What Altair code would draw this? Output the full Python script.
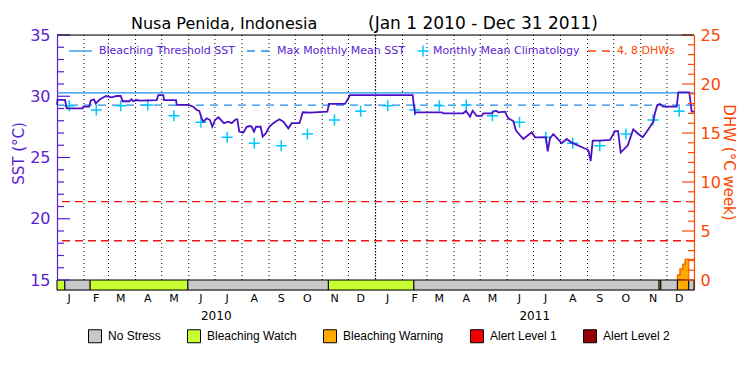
import altair as alt
import pandas as pd

# ---------------- data ----------------
TITLE_LEFT = "Nusa Penida, Indonesia"
TITLE_RIGHT = "(Jan 1 2010 - Dec 31 2011)"

# daily SST read at turning points (day offset from 2010-01-01)
SST_DAY = [0.0, 0.6, 9.2, 11.1, 29.5, 30.1, 37.0, 38.6, 42.4, 44.4, 49.3, 56.2, 62.7, 68.4,
           73.0, 75.3, 82.9, 85.6, 87.4, 91.3, 95.1, 114.3, 116.1, 121.8, 122.6, 136.4,
           137.2, 150.5, 156.2, 160.1, 163.1, 165.8, 167.7, 171.6, 175.3, 178.0, 181.1,
           184.9, 191.4, 196.3, 200.2, 204.8, 206.6, 208.9, 213.5, 217.4, 221.2, 223.1,
           225.8, 228.1, 233.4, 235.7, 239.5, 243.3, 247.9, 254.8, 259.4, 265.1, 269.0,
           277.7, 279.3, 281.6, 289.9, 309.8, 311.7, 330.0, 332.7, 335.8, 407.6, 408.3,
           410.3, 412.2, 440.9, 442.7, 465.6, 468.7, 473.3, 476.4, 481.0, 486.7, 488.6,
           498.2, 500.0, 503.1, 505.7, 513.4, 517.2, 522.9, 526.0, 534.4, 544.0, 547.8,
           560.4, 562.3, 565.0, 568.8, 578.4, 584.1, 589.8, 608.9, 611.6, 613.9, 622.3,
           633.7, 639.5, 643.0, 646.0, 654.1, 660.4, 666.2, 671.2, 675.8, 683.4, 685.3,
           688.0, 691.0, 694.8, 710.2, 712.0, 724.6, 726.2, 727.3, 730.0]
SST_VAL = [29.29, 29.70, 29.70, 29.01, 29.01, 29.15, 29.15, 29.64, 29.75, 29.42, 29.75, 30.02,
           29.91, 30.02, 30.02, 29.59, 29.59, 29.75, 29.59, 29.69, 29.64, 29.69, 30.10, 30.10,
           29.69, 29.69, 29.29, 29.29, 29.15, 28.88, 28.80, 28.20, 27.92, 28.20, 28.06, 27.51,
           28.06, 28.28, 27.80, 27.92, 27.80, 28.12, 28.12, 27.11, 27.02, 27.51, 27.57, 27.51,
           27.11, 27.51, 27.51, 26.70, 26.98, 27.51, 27.80, 28.12, 27.92, 27.38, 27.80, 27.80,
           28.12, 28.69, 28.66, 28.74, 29.37, 29.37, 29.69, 30.10, 30.10, 29.64, 28.61, 28.69,
           28.69, 28.61, 28.61, 28.80, 28.33, 28.82, 28.39, 28.39, 28.61, 28.61, 28.74, 28.82,
           28.69, 28.74, 28.20, 27.98, 27.19, 26.51, 27.06, 26.65, 26.65, 25.50, 26.57, 26.90,
           26.16, 26.51, 26.21, 25.61, 24.70, 26.38, 26.38, 26.43, 27.16, 27.16, 25.40, 26.00,
           27.30, 26.92, 26.65, 27.11, 27.92, 28.66, 29.29, 29.37, 29.15, 29.15, 30.32, 30.32,
           29.42, 28.74, 28.74]

# monthly mean climatology (Jan..Dec)
CLIM = [29.23, 28.88, 29.23, 29.29, 28.41, 27.87, 26.65, 26.16, 25.96, 26.92, 28.06, 28.77]
MMM = 29.27
THRESHOLD = 30.27
DHW_LINES = [4, 8]

# degree heating weeks at the end of 2011
DHW_DAY = [711, 714, 717, 720, 724, 730]
DHW_VAL = [0.5, 1.1, 1.6, 2.1, 2.1, 2.1]
WARN_END = 724

# stress status bar
STATUS_START = [0, 9, 38, 150, 311, 409, 690, 692, 711, 724]
STATUS_END = [9, 38, 150, 311, 409, 690, 692, 711, 724, 730]
STATUS = ["Bleaching Watch", "No Stress", "Bleaching Watch", "No Stress", "Bleaching Watch",
          "No Stress", "Bleaching Watch", "No Stress", "Bleaching Warning", "No Stress"]
STATUS_CATS = ["No Stress", "Bleaching Watch", "Bleaching Warning", "Alert Level 1", "Alert Level 2"]
STATUS_COLORS = ["#c8c8c8", "#c8ff32", "#ffaa00", "#f00000", "#960000"]

MONTH_LETTERS = list("JFMAMJJASOND")
YEARS = ["2010", "2011"]

SST_TICKS_MAJOR = [15, 20, 25, 30, 35]
DHW_TICKS_MAJOR = [0, 5, 10, 15, 20, 25]

# ---------------- styling ----------------
W, H = 637, 255
PURPLE = "#5a1ed2"
LINE_PURPLE = "#4b10c8"
BLUE = "#1e90f0"
CYAN = "#00c8ff"
ORANGE = "#ff4600"
RED = "#f01414"
FONT = "DejaVu Sans"
LEG_FONT = "Liberation Sans"
SST_DOMAIN = [35 - H / 12.25, 35]
DHW_DOMAIN = [-(H - 245) / 9.8, 25]
BAR_TOP, BAR_BOT = 245, 255

xs = alt.Scale(domain=[0, 730], nice=False, zero=False)
sst_scale = alt.Scale(domain=SST_DOMAIN, nice=False, zero=False)
dhw_scale = alt.Scale(domain=DHW_DOMAIN, nice=False, zero=False)

# ---------------- tables ----------------
base_date = pd.Timestamp("2010-01-01")
month_starts = pd.date_range("2010-01-01", "2011-12-01", freq="MS")
month_day = [(d - base_date).days for d in month_starts]
months = pd.DataFrame({
    "day": month_day,
    "mid": [d + 14 for d in month_day],
    "letter": MONTH_LETTERS * 2,
    "clim": CLIM * 2,
})
sst_df = pd.DataFrame({"day": SST_DAY, "sst": SST_VAL})
dhw_df = pd.DataFrame({"day": DHW_DAY, "dhw": DHW_VAL})
status_df = pd.DataFrame({"s": STATUS_START, "e": STATUS_END, "status": STATUS})
year_df = pd.DataFrame({"year": YEARS, "mid": [182.5, 547.5]})

# ---------------- layers ----------------
grid = alt.Chart(months[(months["day"] > 0) & (months["day"] != 365)]).mark_rule(
    color="black", strokeDash=[1, 3], strokeWidth=1
).encode(x=alt.X("day:Q", scale=xs, axis=None), y=alt.value(0), y2=alt.value(BAR_TOP))
grid_year = alt.Chart(months[months["day"] == 365]).mark_rule(
    color="black", strokeDash=[1.5, 1.5], strokeWidth=1.2
).encode(x=alt.X("day:Q", scale=xs, axis=None), y=alt.value(0), y2=alt.value(BAR_TOP))

dhw_ref = alt.Chart(pd.DataFrame({"v": DHW_LINES})).mark_rule(
    color=RED, strokeDash=[8, 5], strokeWidth=1.4
).encode(y=alt.Y("v:Q", scale=dhw_scale, axis=None))

thr = alt.Chart(pd.DataFrame({"v": [THRESHOLD]})).mark_rule(color=BLUE, strokeWidth=1.3).encode(
    y=alt.Y("v:Q", scale=sst_scale, axis=None))
mmm = alt.Chart(pd.DataFrame({"v": [MMM]})).mark_rule(
    color=BLUE, strokeWidth=1.3, strokeDash=[8, 6]).encode(
    y=alt.Y("v:Q", scale=sst_scale, axis=None))

clim = alt.Chart(months).mark_point(
    shape="M-1,0L1,0M0,-1L0,1", filled=False, size=121, color=CYAN, strokeWidth=1.5, opacity=1
).encode(x=alt.X("mid:Q", scale=xs, axis=None), y=alt.Y("clim:Q", scale=sst_scale, axis=None))

sst_line = alt.Chart(sst_df).mark_line(color=LINE_PURPLE, strokeWidth=1.8).encode(
    x=alt.X("day:Q", scale=xs, axis=None),
    y=alt.Y("sst:Q", scale=sst_scale, axis=alt.Axis(
        orient="left", values=SST_TICKS_MAJOR, ticks=False, grid=False,
        domainColor=PURPLE, domainWidth=1.2,
        labelColor=PURPLE, labelFont=FONT, labelFontSize=16, labelPadding=7,
        title="SST (°C)", titleColor=PURPLE, titleFont=FONT, titleFontSize=15,
        titleFontWeight="normal", titleAngle=-90, titleX=-39, titleY=118,
        titleAlign="center", titleBaseline="middle")),
)

dhw_area = alt.Chart(dhw_df[dhw_df["day"] <= WARN_END]).mark_area(
    color="#ffaa00", stroke="#ff6a00", strokeWidth=1.3, interpolate="step-after", opacity=1
).encode(x=alt.X("day:Q", scale=xs, axis=None),
         y=alt.Y("dhw:Q", scale=dhw_scale, axis=None), y2=alt.datum(0))

dhw_line = alt.Chart(dhw_df).mark_line(
    color="#ff6a00", strokeWidth=1.3, interpolate="step-after"
).encode(x=alt.X("day:Q", scale=xs, axis=None),
         y=alt.Y("dhw:Q", scale=dhw_scale, axis=alt.Axis(
             orient="right", values=DHW_TICKS_MAJOR, ticks=False, grid=False,
             domainColor=ORANGE, domainWidth=1.2,
             labelColor=ORANGE, labelFont=FONT, labelFontSize=16, labelPadding=6,
             title="DHW (°C week)", titleColor=ORANGE, titleFont=FONT, titleFontSize=15,
             titleFontWeight="normal", titleAngle=90, titleX=34, titleY=127,
             titleAlign="center", titleBaseline="middle")))

bar = alt.Chart(status_df).mark_rect(stroke="black", strokeWidth=1).encode(
    x=alt.X("s:Q", scale=xs, axis=None), x2="e:Q",
    y=alt.value(BAR_TOP), y2=alt.value(BAR_BOT),
    color=alt.Color("status:N", scale=alt.Scale(domain=STATUS_CATS, range=STATUS_COLORS),
                    legend=alt.Legend(orient="none", legendX=31, legendY=294,
                                      direction="horizontal", title=None,
                                      symbolType="square", symbolSize=169,
                                      symbolStrokeColor="black", symbolStrokeWidth=1,
                                      symbolOpacity=1,
                                      labelFont=LEG_FONT, labelFontSize=12, labelColor="black",
                                      labelOffset=6, columnPadding=24)),
)

# inward ticks
sst_minor = [v for v in range(15, 36) if v % 5]
dhw_minor = [v for v in range(0, 26) if v % 5]
tick_l_major = alt.Chart(pd.DataFrame({"v": SST_TICKS_MAJOR})).mark_rule(color=PURPLE, strokeWidth=1.2).encode(
    y=alt.Y("v:Q", scale=sst_scale, axis=None), x=alt.value(0), x2=alt.value(13))
tick_l_minor = alt.Chart(pd.DataFrame({"v": sst_minor})).mark_rule(color=PURPLE, strokeWidth=1.2).encode(
    y=alt.Y("v:Q", scale=sst_scale, axis=None), x=alt.value(0), x2=alt.value(7))
tick_r_major = alt.Chart(pd.DataFrame({"v": DHW_TICKS_MAJOR})).mark_rule(color=ORANGE, strokeWidth=1.2).encode(
    y=alt.Y("v:Q", scale=dhw_scale, axis=None), x=alt.value(W), x2=alt.value(W - 12))
tick_r_minor = alt.Chart(pd.DataFrame({"v": dhw_minor})).mark_rule(color=ORANGE, strokeWidth=1.2).encode(
    y=alt.Y("v:Q", scale=dhw_scale, axis=None), x=alt.value(W), x2=alt.value(W - 6))

frame_top = alt.Chart(pd.DataFrame({"a": [0]})).mark_rule(color="black", strokeWidth=1.2).encode(
    x=alt.value(0), x2=alt.value(W), y=alt.value(0))

month_txt = alt.Chart(months).mark_text(font=FONT, fontSize=11, color="black", baseline="middle").encode(
    x=alt.X("mid:Q", scale=xs, axis=None), y=alt.value(264), text="letter:N")
year_txt = alt.Chart(year_df).mark_text(font=FONT, fontSize=12, color="black", baseline="middle").encode(
    x=alt.X("mid:Q", scale=xs, axis=None), y=alt.value(281), text="year:N")

title_df = pd.DataFrame({"t": [TITLE_LEFT, TITLE_RIGHT], "px": [74, 311], "fs": [16, 17]})
title_txt = alt.Chart(title_df).mark_text(
    font=FONT, color="black", baseline="alphabetic", align="left").encode(
    x=alt.X("px:Q", scale=None), y=alt.value(-6), text="t:N",
    size=alt.Size("fs:Q", scale=None, legend=None))

# top legend
LEG_Y = 16
leg_thr = alt.Chart(pd.DataFrame({"a": [0]})).mark_rule(color=BLUE, strokeWidth=1.3).encode(
    x=alt.value(12), x2=alt.value(35), y=alt.value(LEG_Y))
leg_mmm = alt.Chart(pd.DataFrame({"a": [0]})).mark_rule(color=BLUE, strokeWidth=1.3, strokeDash=[8, 6]).encode(
    x=alt.value(190), x2=alt.value(212), y=alt.value(LEG_Y))
leg_clim = alt.Chart(pd.DataFrame({"a": [0]})).mark_point(
    shape="M-1,0L1,0M0,-1L0,1", filled=False, size=121, color=CYAN, strokeWidth=1.5, opacity=1).encode(
    x=alt.value(366), y=alt.value(LEG_Y))
leg_dhw = alt.Chart(pd.DataFrame({"a": [0]})).mark_rule(color=ORANGE, strokeWidth=1.3, strokeDash=[8, 6]).encode(
    x=alt.value(531), x2=alt.value(555), y=alt.value(LEG_Y))
leg_labels = pd.DataFrame({
    "t": ["Bleaching Threshold SST", "Max Monthly Mean SST", "Monthly Mean Climatology", "4, 8 DHWs"],
    "c": [PURPLE, PURPLE, PURPLE, ORANGE],
    "px": [42, 220, 376, 560],
})
leg_txt = alt.Chart(leg_labels).mark_text(font=FONT, fontSize=11, align="left", baseline="middle").encode(
    x=alt.X("px:Q", scale=None), y=alt.value(LEG_Y), text="t:N", color=alt.Color("c:N", scale=None))

chart = alt.layer(
    grid, grid_year, dhw_ref, thr, mmm, clim, sst_line, dhw_area, dhw_line, bar,
    tick_l_major, tick_l_minor, tick_r_major, tick_r_minor, frame_top,
    month_txt, year_txt, title_txt,
    leg_thr, leg_mmm, leg_clim, leg_dhw, leg_txt,
).resolve_scale(y="independent", color="independent", size="independent").properties(
    width=W, height=H,
    padding={"left": 49, "top": 27, "right": 48, "bottom": 77},
    autosize=alt.AutoSizeParams(type="none"),
).configure_view(stroke=None).configure(background="white")

chart.save("out.html", embed_options={"renderer": "svg", "actions": False})
